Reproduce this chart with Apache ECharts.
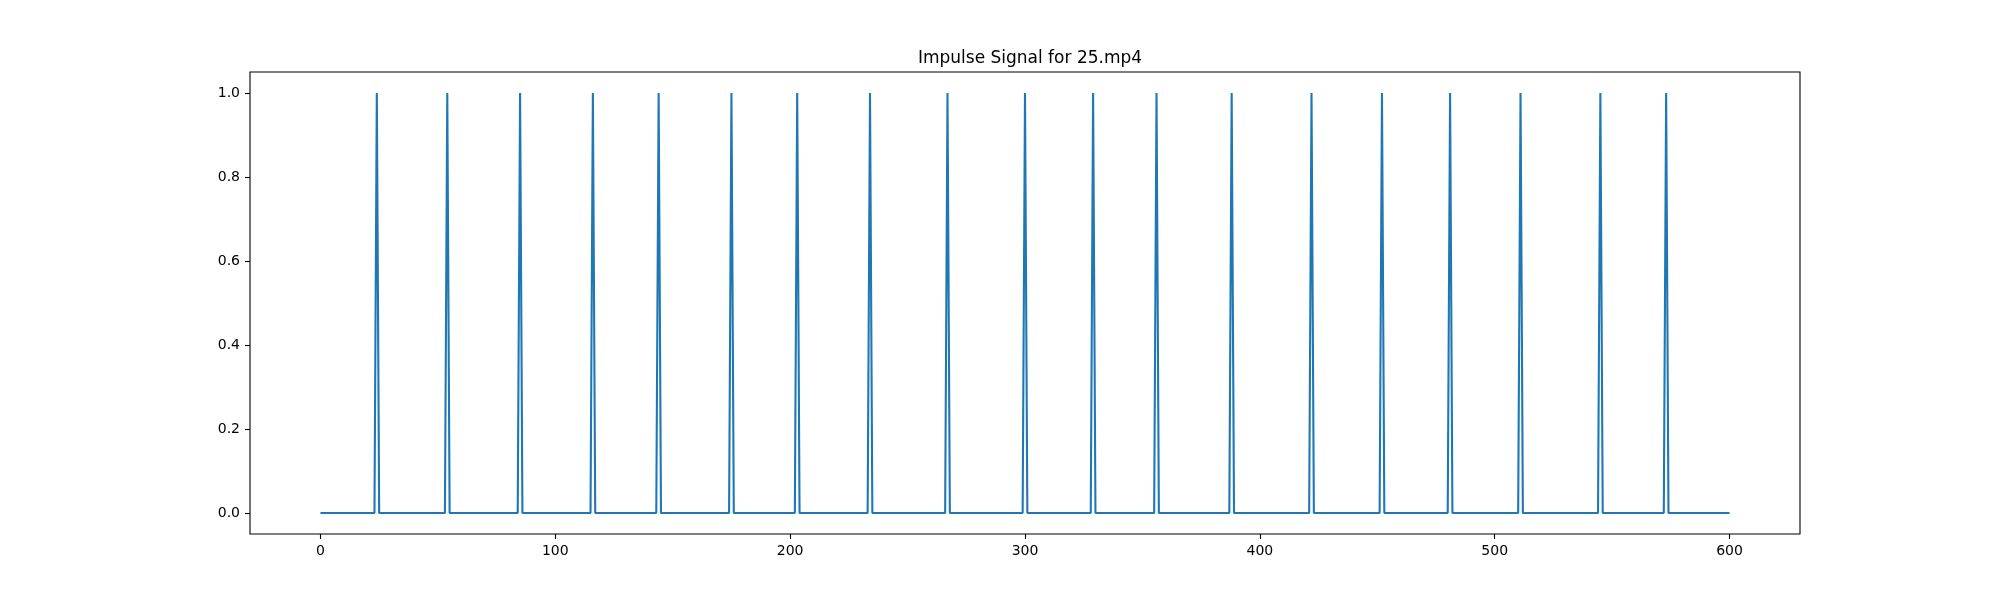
<!DOCTYPE html>
<html>
<head>
<meta charset="utf-8">
<script src="https://cdn.jsdelivr.net/npm/echarts@6/dist/echarts.min.js"></script>
<style>html,body{margin:0;padding:0;background:#fff}#c{width:2000px;height:600px}</style>
</head>
<body>
<div id="c"></div>
<script>
// Impulse positions (frame index where signal = 1), signal otherwise 0 over 0..600
const spikeFrames = [24, 54, 85, 116, 144, 175, 203, 234, 267, 300, 329, 356, 388, 422, 452, 481, 511, 545, 573];
const signalStart = 0;
const signalEnd = 600;
const xTicks = [0, 100, 200, 300, 400, 500, 600];
const yTicks = [0, 0.2, 0.4, 0.6, 0.8, 1.0];
const titleText = 'Impulse Signal for 25.mp4';

const data = [[signalStart, 0]];
spikeFrames.forEach(f => {
  data.push([f - 1, 0]);
  data.push([f, 1]);
  data.push([f + 1, 0]);
});
data.push([signalEnd, 0]);

const font = 'DejaVu Sans';
const chart = echarts.init(document.getElementById('c'), null, {renderer: 'canvas'});
chart.setOption({
  animation: false,
  backgroundColor: '#ffffff',
  title: {
    text: titleText,
    left: 1025,
    textAlign: 'center',
    top: 45,
    textStyle: {fontFamily: font, fontSize: 17, fontWeight: 'normal', color: '#000'}
  },
  grid: {
    left: 250, right: 200, top: 72, bottom: 66,
    show: true, borderColor: '#000', borderWidth: 1.1, backgroundColor: 'transparent'
  },
  xAxis: {
    type: 'value', min: -30, max: 630,
    axisLine: {show: false, onZero: false},
    splitLine: {show: false},
    axisTick: {show: true, length: 5, lineStyle: {color: '#000', width: 1.1}, customValues: xTicks},
    axisLabel: {show: true, margin: 10, fontFamily: font, fontSize: 14, color: '#000', customValues: xTicks,
      formatter: v => String(v)}
  },
  yAxis: {
    type: 'value', min: -0.05, max: 1.05,
    axisLine: {show: false, onZero: false},
    splitLine: {show: false},
    axisTick: {show: true, length: 5, lineStyle: {color: '#000', width: 1.1}, customValues: yTicks},
    axisLabel: {show: true, margin: 10, fontFamily: font, fontSize: 14, color: '#000', customValues: yTicks,
      formatter: v => v.toFixed(1)}
  },
  series: [{
    type: 'line',
    data: data,
    showSymbol: false,
    symbol: 'none',
    lineStyle: {color: '#1f77b4', width: 2.1},
    itemStyle: {color: '#1f77b4'}
  }]
});
</script>
</body>
</html>
